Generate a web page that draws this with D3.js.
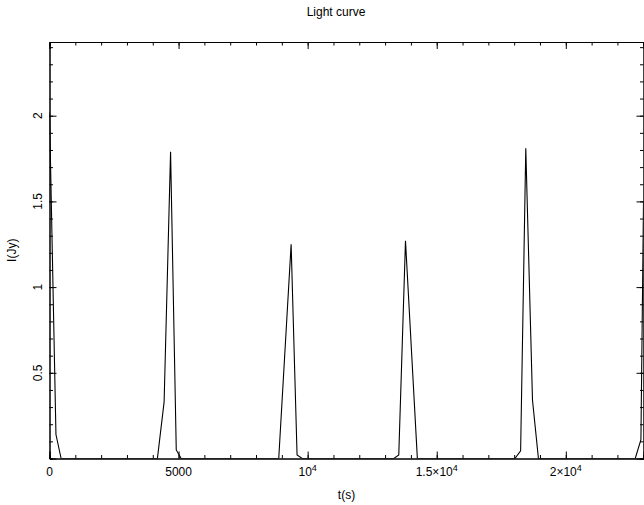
<!DOCTYPE html>
<html>
<head>
<meta charset="utf-8">
<script src="https://cdn.jsdelivr.net/npm/d3@7"></script>
<style>
  body { margin: 0; background: #fff; }
  text { font-family: "Liberation Sans", "DejaVu Sans", sans-serif; fill: #000; }
</style>
</head>
<body>
<div id="chart"></div>
<script>
// light curve vertices (time in s, flux in Jy)
var times = [0, 250, 450, 4180, 4440, 4690, 4910, 5100, 8880, 9360, 9590, 9790,
    13340, 13530, 13790, 14250, 18030, 18250, 18450, 18710, 18940, 22690, 22910, 23010];
var fluxes = [2.02, 0.14, 0, 0, 0.33, 1.79, 0.05, 0, 0, 1.25, 0.02, 0,
    0, 0.02, 1.27, 0, 0, 0.045, 1.81, 0.34, 0, 0, 0.11, 1.5];

var xMajor = [0, 5000, 10000, 15000, 20000];
var xLabels = ["0", "5000", "10^4", "1.5×10^4", "2×10^4"];
var yMajor = [0.5, 1, 1.5, 2];
var yLabels = ["0.5", "1", "1.5", "2"];

var W = 644, H = 505;
var margin = { top: 42, right: 0.5, bottom: 46.5, left: 49.5 },
    width = W - margin.left - margin.right,
    height = H - margin.top - margin.bottom;

var x = d3.scaleLinear().domain([0, 23010]).range([0, width]);
var y = d3.scaleLinear().domain([0, 2.43]).range([height, 0]);

var svg = d3.select("#chart").append("svg")
    .attr("width", W)
    .attr("height", H);

svg.append("defs").append("clipPath").attr("id", "clip")
    .append("rect").attr("width", width).attr("height", height);

var g = svg.append("g")
    .attr("transform", "translate(" + margin.left + "," + margin.top + ")");

var data = times.map(function (t, i) { return { t: t, v: fluxes[i] }; });

var line = d3.line()
    .x(function (d) { return x(d.t); })
    .y(function (d) { return y(d.v); });

g.append("path")
    .datum(data)
    .attr("clip-path", "url(#clip)")
    .attr("fill", "none")
    .attr("stroke", "#000")
    .attr("stroke-width", 1.1)
    .attr("d", line);

// minor ticks, inward on all sides
var xMinor = d3.range(0, 23001, 1000);
var yMinor = d3.range(0, 2.41, 0.1);

function ticks(axis, values, size) {
    return axis.tickValues(values).tickSize(-size).tickFormat("");
}

g.append("g").attr("transform", "translate(0," + height + ")")
    .call(ticks(d3.axisBottom(x), xMinor, 3.5));
g.append("g").call(ticks(d3.axisTop(x), xMinor, 3.5));
g.append("g").call(ticks(d3.axisLeft(y), yMinor, 3.5));
g.append("g").attr("transform", "translate(" + width + ",0)")
    .call(ticks(d3.axisRight(y), yMinor, 3.5));

g.append("g").attr("transform", "translate(0," + height + ")")
    .call(ticks(d3.axisBottom(x), xMajor, 7));
g.append("g").call(ticks(d3.axisTop(x), xMajor, 7));
g.append("g").call(ticks(d3.axisLeft(y), yMajor, 7));
g.append("g").attr("transform", "translate(" + width + ",0)")
    .call(ticks(d3.axisRight(y), yMajor, 7));

g.selectAll(".domain").attr("stroke", "#000");
g.selectAll(".tick line").attr("stroke", "#000");

// x tick labels
xMajor.forEach(function (v, i) {
    var parts = xLabels[i].split("^");
    var t = g.append("text")
        .attr("x", x(v))
        .attr("y", height + 17)
        .attr("text-anchor", "middle")
        .style("font-size", "12px");
    t.append("tspan").text(parts[0]);
    if (parts[1]) {
        t.append("tspan").attr("dy", -5).style("font-size", "9px").text(parts[1]);
    }
});

// y tick labels, rotated
yMajor.forEach(function (v, i) {
    g.append("text")
        .attr("transform", "translate(-8," + y(v) + ") rotate(-90)")
        .attr("text-anchor", "middle")
        .style("font-size", "12px")
        .text(yLabels[i]);
});

svg.append("text")
    .attr("x", 336).attr("y", 16)
    .attr("text-anchor", "middle")
    .style("font-size", "12px")
    .text("Light curve");

svg.append("text")
    .attr("x", margin.left + width / 2).attr("y", 499)
    .attr("text-anchor", "middle")
    .style("font-size", "12px")
    .text("t(s)");

svg.append("text")
    .attr("transform", "translate(16," + (margin.top + height / 2) + ") rotate(-90)")
    .attr("text-anchor", "middle")
    .style("font-size", "12px")
    .text("I(Jy)");
</script>
</body>
</html>
